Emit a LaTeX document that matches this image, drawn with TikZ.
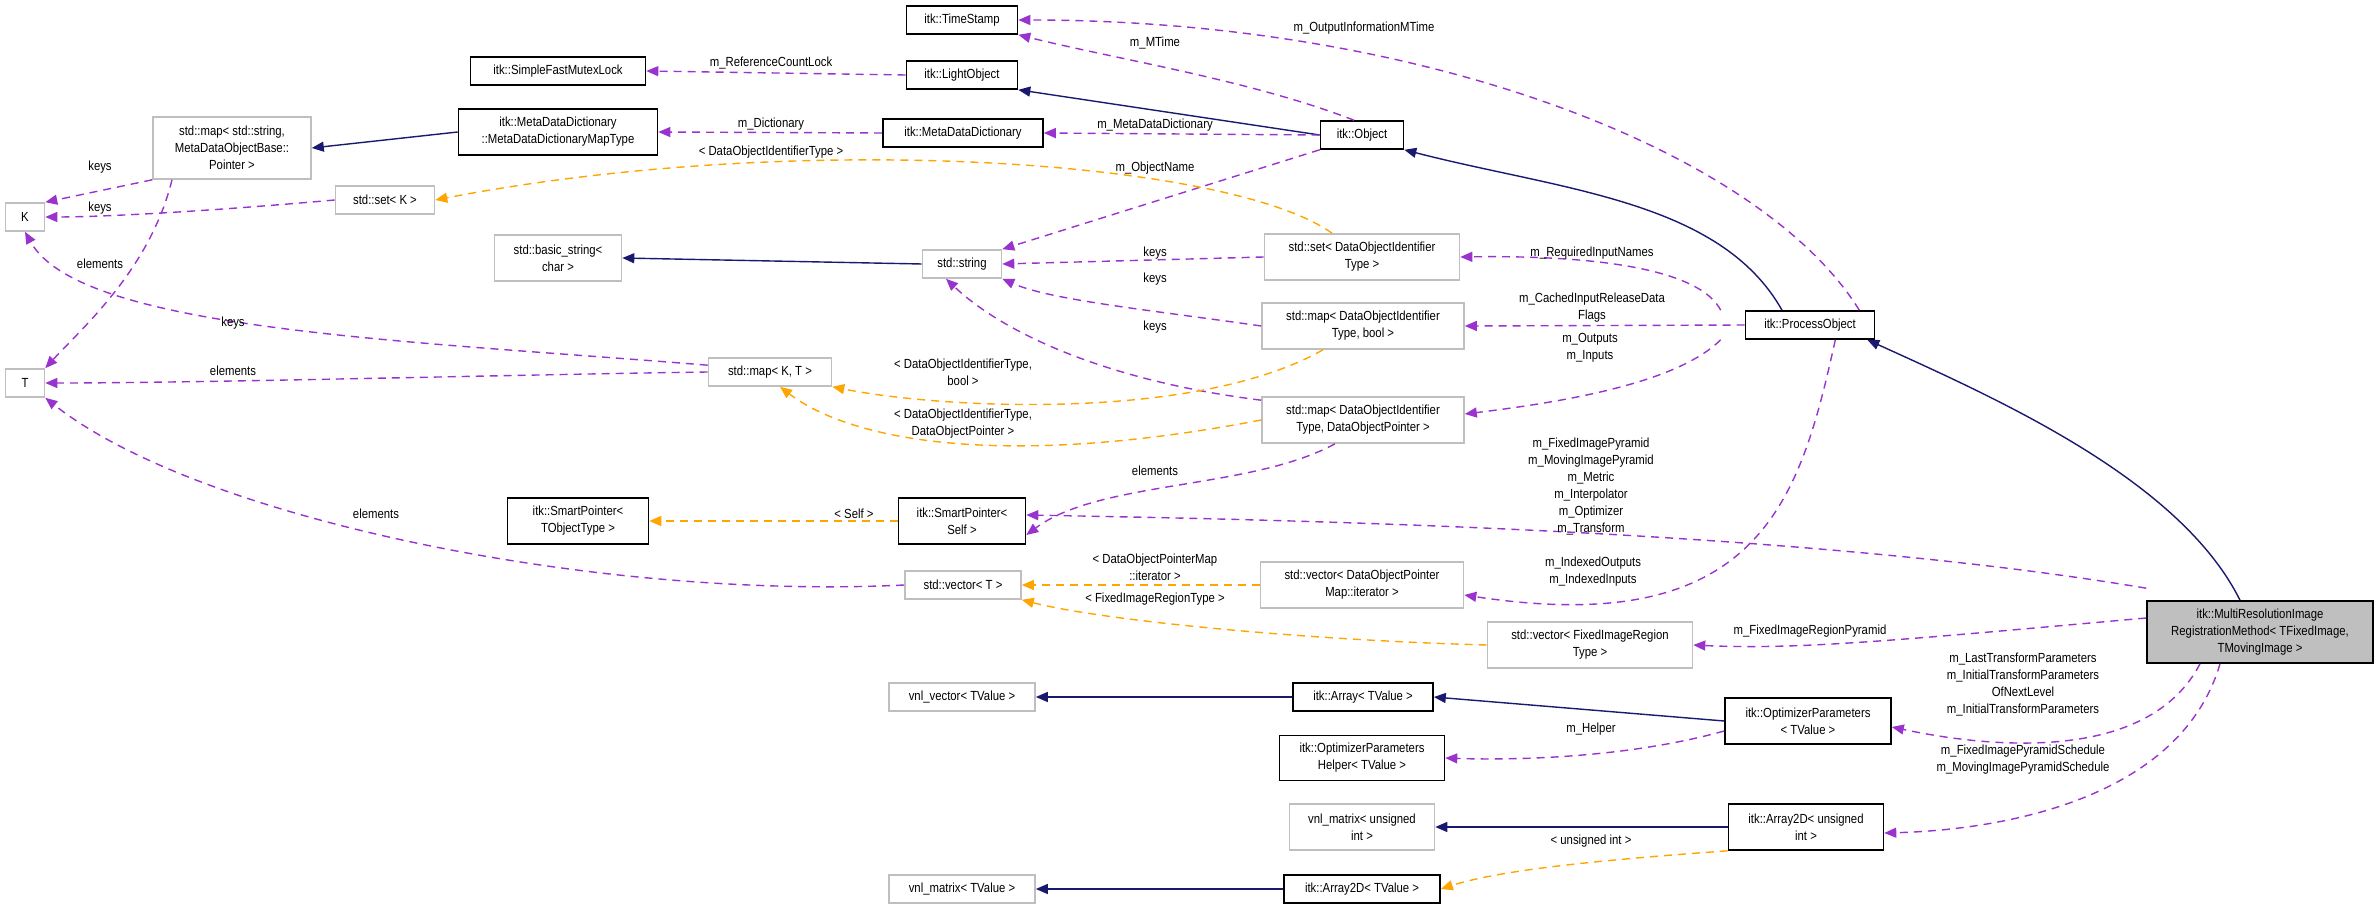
\documentclass[tikz,border=0pt]{standalone}
\usepackage{fontspec}
\setmainfont[FakeStretch=0.86]{Liberation Sans}
\usetikzlibrary{arrows.meta}
\definecolor{navy}{HTML}{191970}
\definecolor{purp}{HTML}{9A32CD}
\definecolor{orng}{HTML}{FFA500}
\definecolor{gbord}{HTML}{BFBFBF}
\begin{document}
\begin{tikzpicture}[x=0.5pt,y=-0.5pt,
  every node/.style={font=\fontsize{6.6}{8.5}\selectfont,align=center,inner sep=0pt},
  bx/.style={draw=black,line width=0.8pt,minimum height=14pt},
  gb/.style={draw=gbord,line width=0.8pt,minimum height=14pt},
  tip/.style={-{Triangle[length=6pt,width=5pt]}},
  inh/.style={tip,draw=navy,line width=0.7pt},
  use/.style={tip,draw=purp,line width=0.7pt,dash pattern=on 4pt off 3pt},
  tpl/.style={tip,draw=orng,line width=0.7pt,dash pattern=on 4pt off 3pt},
  lbl/.style={fill=none}]
\useasboundingbox (0,0) rectangle (2379,909);
% nodes
\node[bx,minimum width=55.5pt] (TS) at (962,20) {itk::TimeStamp};
\node[bx,minimum width=55.5pt] (LO) at (962,75) {itk::LightObject};
\node[bx,minimum width=87.5pt] (Mutex) at (558,71) {itk::SimpleFastMutexLock};
\node[bx,minimum width=99.5pt,minimum height=23pt] (MDDMT) at (558,132) {itk::MetaDataDictionary\\::MetaDataDictionaryMapType};
\node[bx,minimum width=80pt] (MDD) at (963,133) {itk::MetaDataDictionary};
\node[bx,minimum width=41.5pt] (Obj) at (1362,135) {itk::Object};
\node[gb,minimum width=79pt,minimum height=31pt] (Smap) at (232,148) {std::map< std::string,\\MetaDataObjectBase::\\Pointer >};
\node[gb,minimum width=49.5pt] (SetK) at (385,200) {std::set< K >};
\node[gb,minimum width=19.5pt] (K) at (25,217) {K};
\node[gb,minimum width=19.5pt] (T) at (25,383) {T};
\node[gb,minimum width=63.5pt,minimum height=23pt] (BS) at (558,258) {std::basic\_string<\\char >};
\node[gb,minimum width=39.5pt] (Str) at (962,264) {std::string};
\node[gb,minimum width=97.5pt,minimum height=23pt] (SetD) at (1362,257) {std::set< DataObjectIdentifier\\Type >};
\node[gb,minimum width=101pt,minimum height=23pt] (MapB) at (1363,326) {std::map< DataObjectIdentifier\\Type, bool >};
\node[gb,minimum width=101pt,minimum height=23pt] (MapP) at (1363,420) {std::map< DataObjectIdentifier\\Type, DataObjectPointer >};
\node[bx,minimum width=64.5pt] (PO) at (1810,325) {itk::ProcessObject};
\node[gb,minimum width=61.5pt] (MapKT) at (770,372) {std::map< K, T >};
\node[bx,minimum width=70.5pt,minimum height=23pt] (SPT) at (578,521) {itk::SmartPointer<\\TObjectType >};
\node[bx,minimum width=63.5pt,minimum height=23pt] (SPS) at (962,521) {itk::SmartPointer<\\Self >};
\node[gb,minimum width=58pt] (VT) at (963,585) {std::vector< T >};
\node[gb,minimum width=101.5pt,minimum height=23pt] (VIt) at (1362,585) {std::vector< DataObjectPointer\\Map::iterator >};
\node[gb,minimum width=102.5pt,minimum height=23pt] (VF) at (1590,645) {std::vector< FixedImageRegion\\Type >};
\node[bx,fill=gbord,minimum width=113pt,minimum height=31pt] (Multi) at (2260,632) {itk::MultiResolutionImage\\RegistrationMethod< TFixedImage,\\TMovingImage >};
\node[gb,minimum width=73pt] (VV) at (962,697) {vnl\_vector< TValue >};
\node[bx,minimum width=70pt] (Arr) at (1363,697) {itk::Array< TValue >};
\node[bx,minimum width=83pt,minimum height=23pt] (OP) at (1808,721) {itk::OptimizerParameters\\< TValue >};
\node[bx,minimum width=82.5pt,minimum height=22.5pt] (OPH) at (1362,758) {itk::OptimizerParameters\\Helper< TValue >};
\node[gb,minimum width=72.5pt,minimum height=23pt] (VMU) at (1362,827) {vnl\_matrix< unsigned\\int >};
\node[bx,minimum width=77.5pt,minimum height=23pt] (A2U) at (1806,827) {itk::Array2D< unsigned\\int >};
\node[gb,minimum width=73pt] (VMT) at (962,889) {vnl\_matrix< TValue >};
\node[bx,minimum width=78pt] (A2T) at (1362,889) {itk::Array2D< TValue >};
% inheritance
\draw[inh] (MDDMT.west) -- (Smap.east);
\draw[inh] (Str.west) -- (BS.east);
\draw[inh] (Obj.west) -- (LO.south east);
\draw[inh] ([xshift=-14pt]PO.north) .. controls (1720,200) and (1560,190) .. (Obj.south east);
\draw[inh] ([xshift=-10pt]Multi.north) .. controls (2180,480) and (2000,400) .. ([xshift=-4pt]PO.south east);
\draw[inh] (Arr.west) -- (VV.east);
\draw[inh] (OP.west) -- (Arr.east);
\draw[inh] (A2U.west) -- (VMU.east);
\draw[inh] (A2T.west) -- (VMT.east);
% usage
\draw[use] (LO.west) -- (Mutex.east);
\draw[use] (MDD.west) -- (MDDMT.east);
\draw[use] (Obj.west) -- (MDD.east);
\draw[use] ([xshift=-4pt]Obj.north) .. controls (1250,80) and (1120,60) .. (TS.south east);
\draw[use] ([xshift=-8pt]PO.north east) .. controls (1760,150) and (1420,20) .. (TS.east);
\draw[use] (Obj.south west) -- (Str.north east);
\draw[use] (Smap.south west) -- (K.north east);
\draw[use] ([xshift=-30pt]Smap.south) .. controls (150,270) and (80,330) .. (T.north east);
\draw[use] (SetK.west) .. controls (200,212) and (100,217) .. (K.east);
\draw[use] ([yshift=-4pt]MapKT.north west) .. controls (400,340) and (80,330) .. (K.south);
\draw[use] (MapKT.west) .. controls (500,375) and (200,383) .. (T.east);
\draw[use] (SetD.west) -- (Str.east);
\draw[use] (MapB.west) .. controls (1150,310) and (1050,300) .. (Str.south east);
\draw[use] ([yshift=-2pt]MapP.north west) .. controls (1100,380) and (1000,330) .. ([xshift=-8pt]Str.south);
\draw[use] ([xshift=-12pt]PO.north west) .. controls (1700,270) and (1600,255) .. (SetD.east);
\draw[use] (PO.west) -- (MapB.east);
\draw[use] ([xshift=-12pt]PO.south west) .. controls (1680,380) and (1580,400) .. ([yshift=3pt]MapP.east);
\draw[use] ([xshift=-14pt]MapP.south) .. controls (1250,490) and (1100,480) .. ([yshift=-7pt]SPS.east);
\draw[use] ([yshift=6pt]Multi.north west) .. controls (1800,530) and (1300,520) .. ([yshift=3pt]SPS.east);
\draw[use] (VT.west) .. controls (600,600) and (200,520) .. (T.south east);
\draw[use] ([xshift=-20pt]PO.south east) .. controls (1800,500) and (1760,640) .. ([yshift=-5pt]VIt.east);
\draw[use] ([yshift=7pt]Multi.west) .. controls (1900,640) and (1800,650) .. (VF.east);
\draw[use] ([xshift=-30pt]Multi.south) .. controls (2150,760) and (2000,750) .. ([yshift=-3pt]OP.east);
\draw[use] ([yshift=-5pt]OP.west) .. controls (1620,760) and (1500,760) .. (OPH.east);
\draw[use] ([xshift=-20pt]Multi.south) .. controls (2180,800) and (2000,830) .. ([yshift=-3pt]A2U.east);
% templates
\draw[tpl] ([xshift=-15pt]SetD.north) .. controls (1230,160) and (800,130) .. (SetK.east);
\draw[tpl] ([xshift=-20pt]MapB.south) .. controls (1200,420) and (950,410) .. (MapKT.south east);
\draw[tpl] (MapP.west) .. controls (1000,470) and (850,440) .. ([xshift=5pt]MapKT.south);
\draw[tpl] (SPS.west) -- (SPT.east);
\draw[tpl] (VIt.west) -- (VT.east);
\draw[tpl] (VF.west) .. controls (1300,640) and (1100,620) .. (VT.south east);
\draw[tpl] (A2U.south west) .. controls (1600,860) and (1500,870) .. (A2T.east);
% labels
\node[lbl] (l1) at (771,63) {m\_ReferenceCountLock};
\node[lbl] (l2) at (771,124) {m\_Dictionary};
\node[lbl] (l3) at (771,152) {< DataObjectIdentifierType >};
\node[lbl] (l4) at (100,167) {keys};
\node[lbl] (l5) at (100,208) {keys};
\node[lbl] (l6) at (100,264) {elements};
\node[lbl] (l7) at (233,323) {keys};
\node[lbl] (l8) at (233,371) {elements};
\node[lbl] (l9) at (1364,28) {m\_OutputInformationMTime};
\node[lbl] (l10) at (1155,43) {m\_MTime};
\node[lbl] (l11) at (1155,125) {m\_MetaDataDictionary};
\node[lbl] (l12) at (1155,168) {m\_ObjectName};
\node[lbl] (l13) at (1155,253) {keys};
\node[lbl] (l14) at (1155,279) {keys};
\node[lbl] (l15) at (1155,327) {keys};
\node[lbl] (l16) at (1592,253) {m\_RequiredInputNames};
\node[lbl] (l17) at (1592,308) {m\_CachedInputReleaseData\\Flags};
\node[lbl] (l18) at (1590,348) {m\_Outputs\\m\_Inputs};
\node[lbl] (l19) at (963,372) {< DataObjectIdentifierType,\\bool >};
\node[lbl] (l20) at (963,424) {< DataObjectIdentifierType,\\DataObjectPointer >};
\node[lbl] (l21) at (1591,487) {m\_FixedImagePyramid\\m\_MovingImagePyramid\\m\_Metric\\m\_Interpolator\\m\_Optimizer\\m\_Transform};
\node[lbl] (l22) at (1155,471) {elements};
\node[lbl] (l23) at (854,514) {< Self >};
\node[lbl] (l24) at (376,514) {elements};
\node[lbl] (l25) at (1155,567) {< DataObjectPointerMap\\::iterator >};
\node[lbl] (l26) at (1155,599) {< FixedImageRegionType >};
\node[lbl] (l27) at (1593,572) {m\_IndexedOutputs\\m\_IndexedInputs};
\node[lbl] (l28) at (1810,631) {m\_FixedImageRegionPyramid};
\node[lbl] (l29) at (2023,685) {m\_LastTransformParameters\\m\_InitialTransformParameters\\OfNextLevel\\m\_InitialTransformParameters};
\node[lbl] (l30) at (1591,729) {m\_Helper};
\node[lbl] (l31) at (2023,760) {m\_FixedImagePyramidSchedule\\m\_MovingImagePyramidSchedule};
\node[lbl] (l32) at (1591,841) {< unsigned int >};
\end{tikzpicture}
\end{document}
